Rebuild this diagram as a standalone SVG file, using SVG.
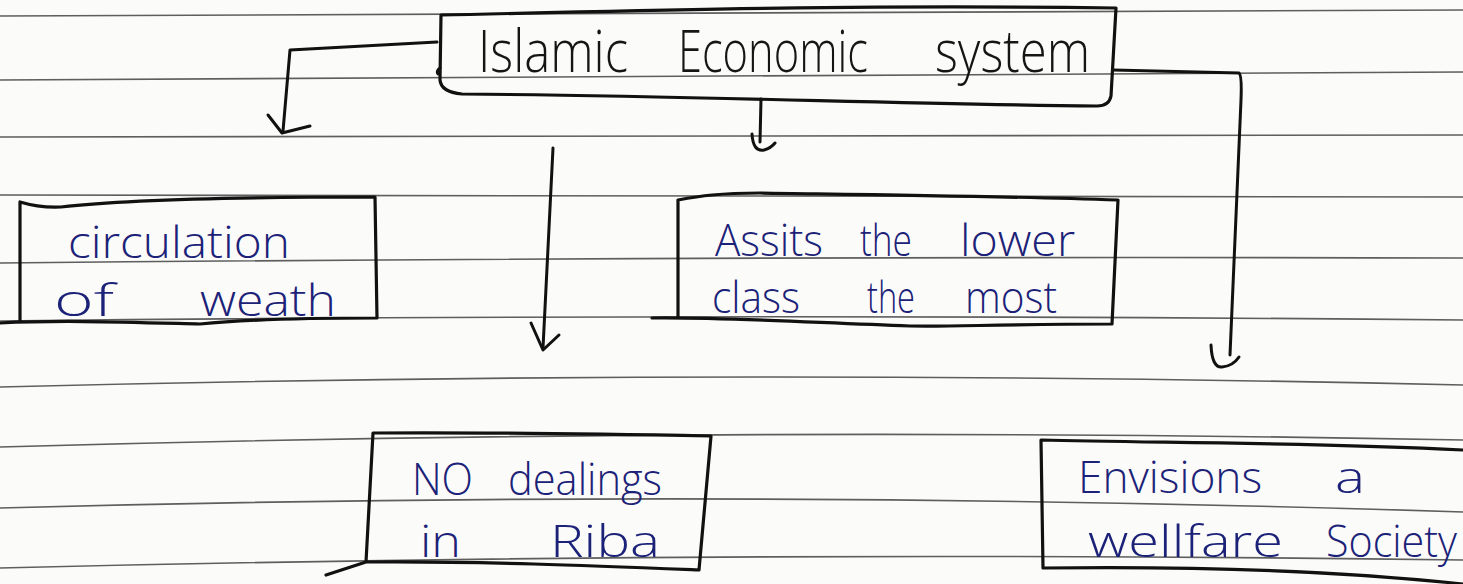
<svg xmlns="http://www.w3.org/2000/svg" width="1463" height="584" viewBox="0 0 1463 584">
<style>
.paper{fill:#fbfbfa}
.rule{fill:none;stroke:#5e5e5e;stroke-width:1.6}
.box{fill:none;stroke:#111;stroke-width:3.2;stroke-linejoin:round;stroke-linecap:round}
.con{fill:none;stroke:#111;stroke-width:3;stroke-linecap:round;stroke-linejoin:round}
.t{font-family:"Open Sans","Liberation Sans",sans-serif;font-weight:300;}
.blk{fill:#151515;font-size:58px}
.blu{fill:#1b2277;font-size:44px}
</style>
<rect class="paper" x="0" y="0" width="1463" height="584"/>
<g id="rules">
<path class="rule" d="M0,16 Q731,12 1463,10"/>
<path class="rule" d="M0,80 Q731,73 1463,72"/>
<path class="rule" d="M0,137 Q731,136 1463,135"/>
<path class="rule" d="M0,195 Q731,193 1463,197"/>
<path class="rule" d="M0,263 Q731,256 1463,258"/>
<path class="rule" d="M0,321 Q731,313 1463,320"/>
<path class="rule" d="M0,387 Q731,368 1463,385"/>
<path class="rule" d="M0,447 Q731,426 1463,440"/>
<path class="rule" d="M0,508 Q731,488 1463,512"/>
<path class="rule" d="M0,568 Q731,550 1463,560"/>
</g>
<g id="connectors">
<path class="con" d="M437,42 L290,50 L283,131"/>
<path class="con" d="M268,115 L282,133 L310,126"/>
<path class="con" d="M761,99 L760,142"/>
<path class="con" d="M752,134 Q753,152 764,150 Q771,148 775,143"/>
<path class="con" d="M553,148 L543,348"/>
<path class="con" d="M531,323 L543,350 L559,335"/>
<path class="con" d="M1113,70 L1239,73 Q1242,75 1241,100 L1230,355"/>
<path class="con" d="M1211,345 Q1212,368 1222,367 Q1233,366 1239,357"/>
</g>
<g id="node-title">
<path class="box" d="M441,15 C600,12 820,4 1116,8 L1111,96 Q1109,106 1097,106 C900,104 700,96 462,94 Q441,92 440,80 Z"/>
<path class="con" d="M440,68 Q436,71 438,74"/>
<text class="t blk" x="478" y="72" textLength="150" lengthAdjust="spacingAndGlyphs">Islamic</text>
<text class="t blk" x="678" y="72" textLength="190" lengthAdjust="spacingAndGlyphs">Economic</text>
<text class="t blk" x="935" y="72" textLength="155" lengthAdjust="spacingAndGlyphs">system</text>
</g>
<g id="node-circulation">
<path class="box" d="M20,202 Q40,208 61,207 C120,200 250,197 375,197 L377,318 C300,318 240,320 200,324 C120,322 60,320 0,323 M20,202 L20,322"/>
<text class="t blu" x="68" y="258" textLength="222" lengthAdjust="spacingAndGlyphs">circulation</text>
<text class="t blu" x="54" y="316" textLength="60" lengthAdjust="spacingAndGlyphs">of</text>
<text class="t blu" x="200" y="316" textLength="136" lengthAdjust="spacingAndGlyphs">weath</text>
</g>
<g id="node-assists">
<path class="box" d="M678,200 C700,196 720,193 760,193 C900,195 1000,196 1118,200 L1112,324 C1000,324 950,327 910,326 C800,322 720,317 652,318 M678,200 L678,318"/>
<text class="t blu" x="715" y="256" textLength="108" lengthAdjust="spacingAndGlyphs">Assits</text>
<text class="t blu" x="860" y="256" textLength="52" lengthAdjust="spacingAndGlyphs">the</text>
<text class="t blu" x="960" y="256" textLength="115" lengthAdjust="spacingAndGlyphs">lower</text>
<text class="t blu" x="712" y="313" textLength="88" lengthAdjust="spacingAndGlyphs">class</text>
<text class="t blu" x="867" y="313" textLength="48" lengthAdjust="spacingAndGlyphs">the</text>
<text class="t blu" x="965" y="313" textLength="92" lengthAdjust="spacingAndGlyphs">most</text>
</g>
<g id="node-riba">
<path class="box" d="M373,433 C480,432 600,434 711,436 L699,570 C600,566 480,561 366,562 L326,575 M373,433 L366,562"/>
<text class="t blu" x="412" y="495" textLength="61" lengthAdjust="spacingAndGlyphs">NO</text>
<text class="t blu" x="508" y="495" textLength="154" lengthAdjust="spacingAndGlyphs">dealings</text>
<text class="t blu" x="420" y="557" textLength="41" lengthAdjust="spacingAndGlyphs">in</text>
<text class="t blu" x="550" y="557" textLength="110" lengthAdjust="spacingAndGlyphs">Riba</text>
</g>
<g id="node-welfare">
<path class="box" d="M1041,440 C1150,443 1300,442 1463,450 M1041,440 L1043,568 C1200,566 1350,572 1463,584"/>
<text class="t blu" x="1078" y="493" textLength="184" lengthAdjust="spacingAndGlyphs">Envisions</text>
<text class="t blu" x="1335" y="493" textLength="30" lengthAdjust="spacingAndGlyphs">a</text>
<text class="t blu" x="1088" y="557" textLength="195" lengthAdjust="spacingAndGlyphs">wellfare</text>
<text class="t blu" x="1326" y="557" textLength="131" lengthAdjust="spacingAndGlyphs">Society</text>
</g>
</svg>
